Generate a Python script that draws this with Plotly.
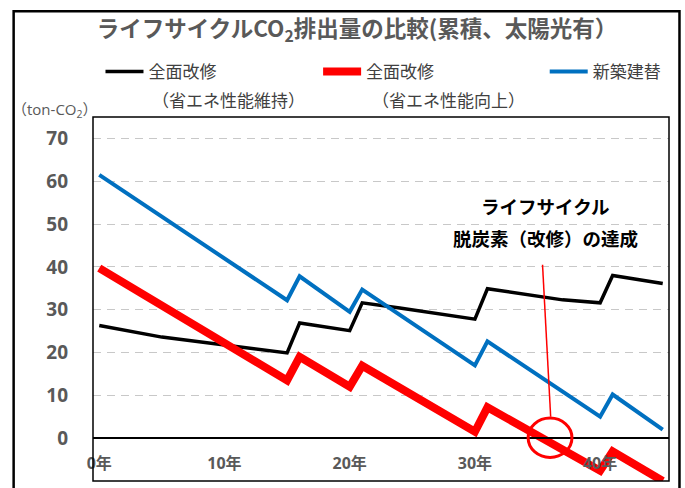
import plotly.graph_objects as go

# ---- data (years, cumulative CO2 in ton-CO2) ----
black_name = "全面改修"
black_years = [0, 5, 15, 16, 20, 21, 24, 30, 31, 35, 37, 40, 41, 45]
black_vals = [26.3, 23.6, 19.9, 26.9, 25.1, 31.6, 30.4, 27.8, 34.9, 33.3, 32.3, 31.6, 38.0, 36.1]

red_name = "全面改修"
red_years = [0, 15, 16, 20, 21, 30, 31, 40, 41, 45]
red_vals = [39.7, 13.5, 19.0, 12.0, 16.9, 1.5, 7.2, -7.6, -3.1, -10.0]

blue_name = "新築建替"
blue_years = [0, 15, 16, 20, 21, 30, 31, 40, 41, 45]
blue_vals = [61.5, 32.2, 37.8, 29.5, 34.7, 17.0, 22.6, 5.0, 10.2, 2.0]

x_tick_vals = [0, 10, 20, 30, 40]
x_tick_text = ["0年", "10年", "20年", "30年", "40年"]
y_tick_vals = [-10, 0, 10, 20, 30, 40, 50, 60, 70]
y_tick_text = ['<span style="color:#FF0000">-10</span>', "0", "10", "20", "30", "40", "50", "60", "70"]

title_text = "ライフサイクルCO<sub>2</sub>排出量の比較(累積、太陽光有）"
sub_black = "（省エネ性能維持）"
sub_red = "（省エネ性能向上）"
y_unit = "（ton-CO<sub>2</sub>）"
note_line1 = "ライフサイクル"
note_line2 = "脱炭素（改修）の達成"

# ---- layout geometry (pixels) ----
W, H = 685, 488
L, R, T, B = 92.5, 669.5, 117, 481.5
PW, PH = R - L, B - T
YMIN, YMAX = -10, 75
XMIN, XMAX = -0.5, 45.5


def px(xp):
    return (xp - L) / PW


def py(yp):
    return (B - yp) / PH


JP = "Noto Sans CJK JP"
NUM = "Open Sans, Noto Sans CJK JP"
GRAY = "#595959"
LEG_FONT = dict(family=JP, size=17, color="#404040")

fig = go.Figure()
fig.add_trace(go.Scatter(x=black_years, y=black_vals, mode="lines", name=black_name,
                         line=dict(color="#000000", width=3.5), legend="legend"))
fig.add_trace(go.Scatter(x=red_years, y=red_vals, mode="lines", name=red_name,
                         line=dict(color="#FF0000", width=8), legend="legend2"))
fig.add_trace(go.Scatter(x=blue_years, y=blue_vals, mode="lines", name=blue_name,
                         line=dict(color="#0070C0", width=4), legend="legend3"))


def leg(xpix):
    return dict(orientation="h", x=px(xpix), xanchor="left", y=py(72), yanchor="middle",
                itemwidth=38, bgcolor="rgba(0,0,0,0)", font=LEG_FONT)


fig.update_layout(
    width=W, height=H,
    paper_bgcolor="white", plot_bgcolor="white",
    margin=dict(l=L, r=W - R, t=T, b=H - B, pad=0, autoexpand=False),
    title=dict(text=title_text, x=357 / W, xanchor="center", xref="container",
               y=1 - 29 / H, yanchor="middle", yref="container",
               font=dict(family=JP, size=22.5, color=GRAY, weight="bold")),
    showlegend=True,
    legend=leg(100), legend2=leg(318), legend3=leg(545),
    xaxis=dict(range=[XMIN, XMAX], tickvals=x_tick_vals, ticktext=x_tick_text,
               anchor="free", position=(0 - YMIN) / (YMAX - YMIN),
               showline=True, linecolor="#000000", linewidth=1.5,
               showgrid=False, zeroline=False, ticks="", ticklabelstandoff=11,
               tickfont=dict(family=NUM, size=16, color=GRAY, weight="bold")),
    yaxis=dict(range=[YMIN, YMAX], tickvals=y_tick_vals, ticktext=y_tick_text,
               showgrid=True, gridcolor="#C8C8C8", gridwidth=1, griddash="8px,6px",
               zeroline=False, showline=False, ticks="", ticklabelstandoff=24,
               tickfont=dict(family=NUM, size=19, color=GRAY, weight="bold")),
)

annotations = [
    dict(text=sub_black, x=px(228), y=py(99), xref="paper", yref="paper",
         xanchor="center", yanchor="middle",
         showarrow=False, font=LEG_FONT),
    dict(text=sub_red, x=px(449), y=py(99), xref="paper", yref="paper",
         xanchor="center", yanchor="middle",
         showarrow=False, font=LEG_FONT),
    dict(text=y_unit, x=px(54), y=py(110), xref="paper", yref="paper",
         xanchor="center", yanchor="middle",
         showarrow=False, font=dict(family="Open Sans, " + JP, size=15, color=GRAY)),
    dict(text=note_line1, x=35.6, y=54.3, xref="x", yref="y", showarrow=False,
         xanchor="center", yanchor="middle",
         font=dict(family=JP, size=18.5, color="#000000", weight="bold")),
    dict(text=note_line2, x=35.6, y=46.7, xref="x", yref="y", showarrow=False,
         xanchor="center", yanchor="middle",
         font=dict(family=JP, size=18.5, color="#000000", weight="bold")),
]
fig.update_layout(annotations=annotations)

shapes = [
    # plot frame
    dict(type="rect", xref="paper", yref="paper", x0=0, x1=1, y0=0, y1=1,
         line=dict(color="#000000", width=1.5), layer="above"),
    # outer border
    dict(type="rect", xref="paper", yref="paper", x0=px(13), x1=px(680), y0=py(500), y1=py(11),
         line=dict(color="#000000", width=2.5), layer="above"),
    # zero line
    dict(type="line", xref="paper", yref="y", x0=0, x1=1, y0=0, y1=0,
         line=dict(color="#000000", width=1.5), layer="below"),
    # callout line and circle
    dict(type="line", xref="x", yref="y", x0=35.4, y0=40.5, x1=36.05, y1=5.0,
         line=dict(color="#FF0000", width=1.5)),
    dict(type="circle", xref="x", yref="y", x0=34.25, x1=37.75, y0=-4.5, y1=4.7,
         line=dict(color="#FF0000", width=3)),
]
fig.update_layout(shapes=shapes)

fig.write_html("out.html", config={"displayModeBar": False},
               post_script="document.body.style.margin='0';document.body.style.overflow='hidden';")
